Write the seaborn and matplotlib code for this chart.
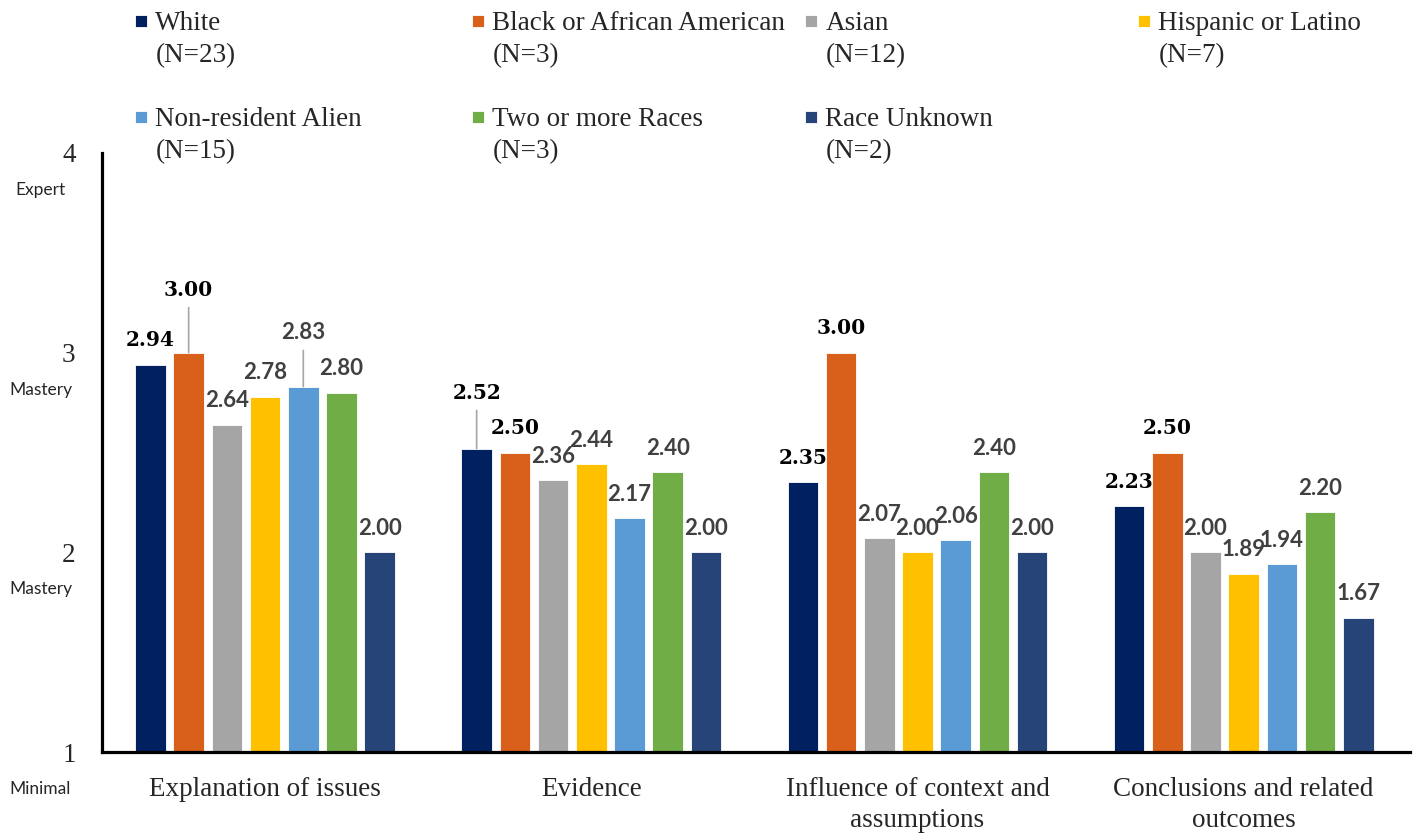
import pandas as pd
import seaborn as sns
import matplotlib.pyplot as plt
from matplotlib.patches import Rectangle
from matplotlib.legend_handler import HandlerPatch
from matplotlib.transforms import blended_transform_factory

# dados do gráfico
criterios = ["Explanation of issues", "Evidence",
             "Influence of context and\nassumptions",
             "Conclusions and related\noutcomes"]
grupos = ["White", "Black or African American", "Asian", "Hispanic or Latino",
          "Non-resident Alien", "Two or more Races", "Race Unknown"]
grupos_n = [23, 3, 12, 7, 15, 3, 2]

white = [2.94, 2.52, 2.35, 2.23]
black = [3.00, 2.50, 3.00, 2.50]
asian = [2.64, 2.36, 2.07, 2.00]
hispanic = [2.78, 2.44, 2.00, 1.89]
nonresident = [2.83, 2.17, 2.06, 1.94]
two_more = [2.80, 2.40, 2.40, 2.20]
unknown = [2.00, 2.00, 2.00, 1.67]

niveis = [1, 2, 3, 4]
niveis_nomes = ["Minimal", "Mastery", "Mastery", "Expert"]

cores = ["#002060", "#D9601A", "#A5A5A5", "#FFC000", "#5B9BD5", "#70AD47", "#264478"]

# tabela longa para o seaborn
series = [white, black, asian, hispanic, nonresident, two_more, unknown]
rotulos = [f"{g}\n(N={n})" for g, n in zip(grupos, grupos_n)]
linhas = []
for rot, vals in zip(rotulos, series):
    for crit, v in zip(criterios, vals):
        linhas.append({"criterio": crit, "grupo": rot, "nota": v})
df = pd.DataFrame(linhas)

sns.set_style("white")
plt.rcParams['font.family'] = ['Liberation Serif', 'DejaVu Serif']

fig = plt.figure(figsize=(14.13, 8.33), dpi=100)
ax = fig.add_axes([102 / 1413, 81 / 833, 1308 / 1413, 599 / 833])

sns.barplot(data=df, x="criterio", y="nota", hue="grupo", order=criterios,
            hue_order=rotulos, palette=cores, saturation=1, width=0.82, gap=0.2,
            edgecolor="white", linewidth=0.6, ax=ax)

leg = ax.get_legend()
handles = leg.legend_handles
labels = [t.get_text() for t in leg.get_texts()]
leg.remove()

ax.set_ylim(1, 4)
ax.set_xlim(-0.5, 3.51)
ax.set_yticks(niveis)
ax.set_yticklabels([str(v) for v in niveis], fontsize=19.5)
ax.tick_params(axis='y', length=0, pad=19)
ax.tick_params(axis='x', length=0, pad=18, labelsize=19.5)
ax.set_xlabel("")
ax.set_ylabel("")
for s in ["top", "right"]:
    ax.spines[s].set_visible(False)
for s in ["left", "bottom"]:
    ax.spines[s].set_color("black")
    ax.spines[s].set_linewidth(2.3)
for lab in ax.get_xticklabels():
    lab.set_linespacing(1.3)

# nomes dos níveis abaixo de cada tick
trans = blended_transform_factory(ax.transAxes, ax.transData)
for v, nome in zip(niveis, niveis_nomes):
    ax.text(-0.047, v - 0.185, nome, transform=trans, ha="center", va="center",
            fontsize=12.5, family=["Lato", "DejaVu Sans"], clip_on=False)

# rótulos de valor
destaque = {(1, 0): 45, (4, 0): 39, (0, 1): 40}  # (serie, criterio): offset com linha
for i, (cont, vals) in enumerate(zip(ax.containers, series)):
    for j, (bar, v) in enumerate(zip(cont, vals)):
        x = bar.get_x() + bar.get_width() / 2
        topo = bar.get_y() + bar.get_height()
        if i < 2:
            estilo = dict(color="black", fontweight="bold", fontsize=14.5,
                          family=["DejaVu Serif"])
        else:
            estilo = dict(color="#404040", fontweight="bold", fontsize=16,
                          family=["Lato", "DejaVu Sans"])
        off = destaque.get((i, j), 17.5)
        seta = None
        if (i, j) in destaque:
            seta = dict(arrowstyle="-", color="#A6A6A6", lw=1.2,
                        shrinkA=3, shrinkB=0)
        ax.annotate(f"{v:.2f}", xy=(x, topo), xytext=(0, off),
                    textcoords="offset points", ha="center", va="center",
                    arrowprops=seta, annotation_clip=False, **estilo)

# legenda em 4 colunas de largura igual (como no Excel)
def quadrado(legend, orig_handle, xdescent, ydescent, width, height, fontsize):
    lado = 0.45 * fontsize
    return Rectangle((-xdescent, -ydescent + 0.72 * fontsize), lado, lado)

colunas = [[0, 4], [1, 5], [2, 6], [3]]
xs = [135, 472, 805, 1138]
for col, xpix in zip(colunas, xs):
    lg = fig.legend([handles[k] for k in col], [labels[k] for k in col],
                    loc="upper left", bbox_to_anchor=(xpix / 1413, 1 - 11 / 833),
                    frameon=False, fontsize=19.5, borderpad=0, borderaxespad=0,
                    handlelength=0.45, handleheight=0.45, handletextpad=0.3,
                    labelspacing=1.47,
                    handler_map={h: HandlerPatch(patch_func=quadrado) for h in handles})
    for t in lg.get_texts():
        t.set_linespacing(1.35)

plt.savefig("out.png", dpi=100)
